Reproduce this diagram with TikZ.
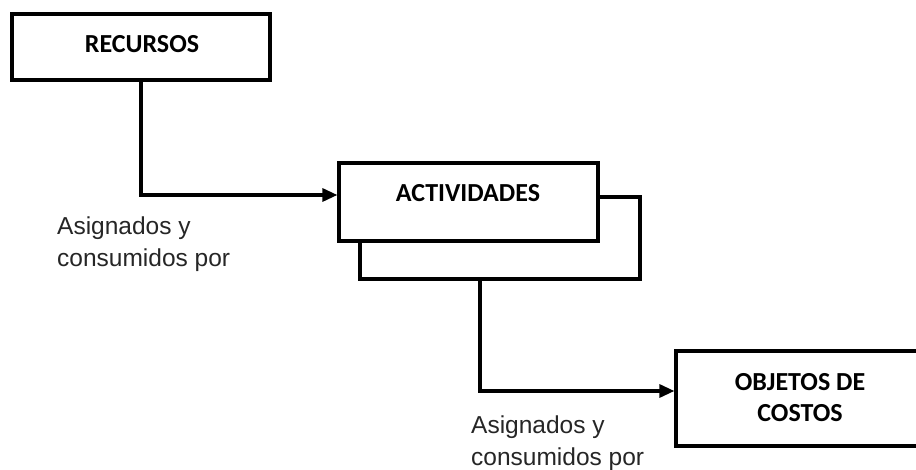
\documentclass[tikz,border=0pt]{standalone}
\usepackage{fontspec}
\setmainfont{Liberation Sans}
\newfontfamily\boxfont{Carlito}
\usetikzlibrary{arrows.meta}
\begin{document}
\begin{tikzpicture}[x=1pt,y=-1pt,
  blockbox/.style={draw=black, line width=3.2pt, fill=white, inner sep=0pt},
  blocktext/.style={font=\boxfont\bfseries\fontsize{26}{31}\selectfont, align=center, inner sep=0pt},
  note/.style={font=\fontsize{24.5}{32}\selectfont, align=left, anchor=west, inner sep=0pt, text=black!85},
  link/.style={line width=3.2pt, line join=miter},
  tip/.style={-{Triangle[length=15pt,width=13pt]}}]
\useasboundingbox (0,0) rectangle (916,470);
\clip (0,0) rectangle (916,470);
\fill[white] (0,0) rectangle (916,470);

% boxes
\node[blockbox, minimum width=258pt, minimum height=66pt] (rec) at (141,47) {};
\node[blockbox, minimum width=259pt, minimum height=78pt] (act) at (468.5,202) {};
\node[blockbox, minimum width=248pt, minimum height=95pt] (obj) at (800,398.5) {};

% box captions
\node[blocktext] (rect) at (142,44) {RECURSOS};
\node[blocktext] (actt) at (468,193) {ACTIVIDADES};
\node[blocktext] (objt) at (800,398) {OBJETOS DE\\COSTOS};

% RECURSOS -> ACTIVIDADES
\coordinate (c1) at (141,195);
\draw[link, tip] (rec.south) -- (c1) -- (c1 -| act.west);

% bracket around ACTIVIDADES
\coordinate (b1) at (640,197);
\coordinate (b2) at (640,279);
\coordinate (b3) at (360,279);
\coordinate (b4) at (480,279);
\draw[link] (b1 -| act.east) -- (b1) -- (b2) -- (b3) -- (b3 |- act.south);

% ACTIVIDADES -> OBJETOS DE COSTOS
\coordinate (c2) at (480,391);
\draw[link, tip] (b4) -- (c2) -- (c2 -| obj.west);

% labels
\node[note] (n1) at (57,244) {Asignados y\\consumidos por};
\node[note] (n2) at (471,443) {Asignados y\\consumidos por};
\end{tikzpicture}
\end{document}
